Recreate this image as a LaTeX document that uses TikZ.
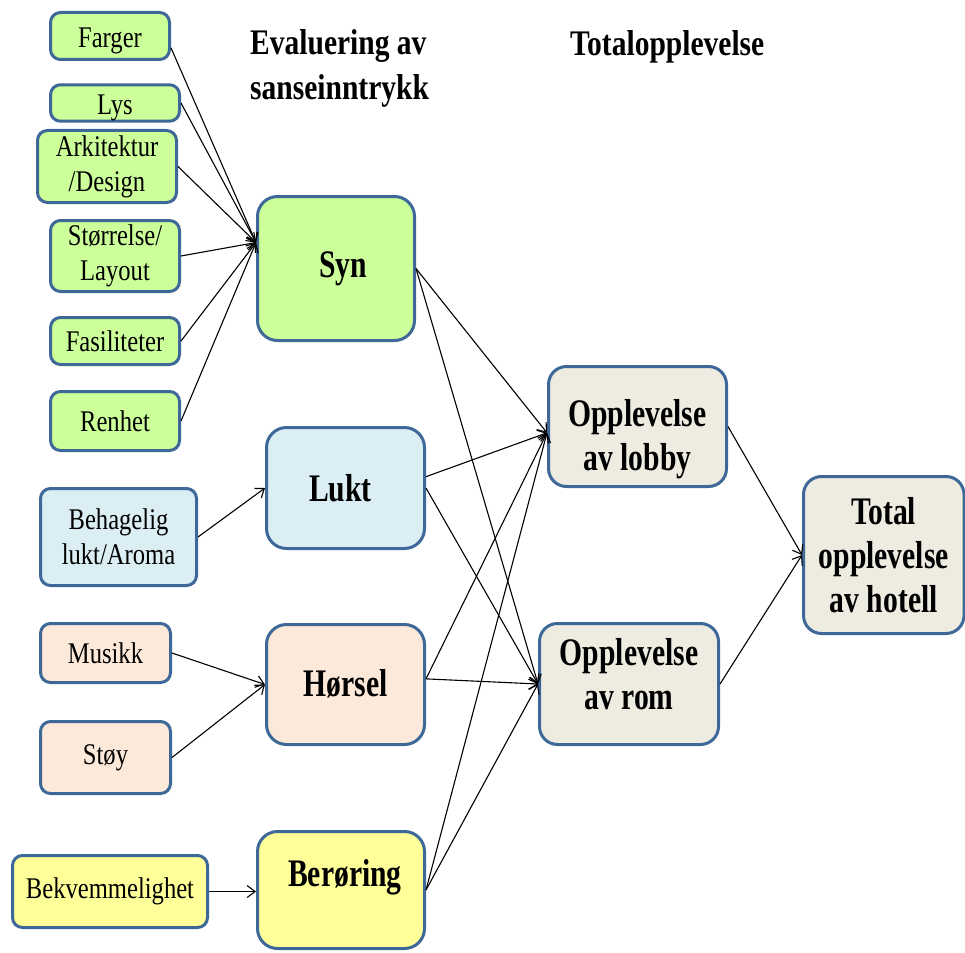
\documentclass[tikz,border=0pt]{standalone}
\usepackage{fontspec}
\setmainfont{Liberation Serif}[FakeStretch=0.82]
\newfontfamily\bigf{Liberation Serif}[FakeStretch=0.76]
\usetikzlibrary{arrows.meta}
\definecolor{bordc}{RGB}{62,104,152}
\definecolor{gre}{RGB}{204,255,153}
\definecolor{blu}{RGB}{218,238,243}
\definecolor{pea}{RGB}{253,233,217}
\definecolor{yel}{RGB}{255,255,153}
\definecolor{bei}{RGB}{238,236,225}
\begin{document}
\begin{tikzpicture}[x=1pt,y=-1pt,
  box/.style={draw=bordc, line width=3pt, rounded corners=10pt, align=center,
    inner sep=0pt, font=\fontsize{30}{35}\selectfont},
  big/.style={box, rounded corners=20pt, font=\bigf\bfseries\fontsize{39}{44}\selectfont},
  title/.style={anchor=base west, align=left, inner sep=0pt, font=\bfseries\fontsize{36}{45}\selectfont},
  conn/.style={-{Straight Barb[length=8pt,width=12pt]}, line width=1.1pt, black}
]
\useasboundingbox (0,0) rectangle (965,952);
\clip (0,0) rectangle (965,952);

% titles
\node[title] (t1) at (250,100) {Evaluering av\\sanseinntrykk};
\node[title] (t2) at (570,56) {Totalopplevelse};

% small input boxes
\node[box, fill=gre, minimum width=119pt, minimum height=47pt] (farger) at (110,36) {\rule{0pt}{30pt}Farger};
\node[box, fill=gre, minimum width=129pt, minimum height=35pt] (lys) at (115,103) {\rule{0pt}{30pt}Lys};
\node[box, fill=gre, minimum width=139pt, minimum height=72pt] (ark) at (107,166.5) {Arkitektur\\/Design};
\node[box, fill=gre, minimum width=129pt, minimum height=71pt] (stor) at (115,256) {Størrelse/\\Layout};
\node[box, fill=gre, minimum width=129pt, minimum height=47pt] (fas) at (115,341) {Fasiliteter};
\node[box, fill=gre, minimum width=129pt, minimum height=59pt] (ren) at (115,421) {Renhet};
\node[box, fill=blu, minimum width=156pt, minimum height=97pt] (beh) at (118.5,537) {Behagelig\\lukt/Aroma};
\node[box, fill=pea, minimum width=130pt, minimum height=59pt] (mus) at (105.5,653) {Musikk};
\node[box, fill=pea, minimum width=130pt, minimum height=72pt] (stoy) at (105.5,757.5) {Støy};
\node[box, fill=yel, minimum width=195pt, minimum height=72pt] (bek) at (110,891.5) {Bekvemmelighet};

% senses
\node[big, fill=gre, minimum width=157pt, minimum height=144pt] (syn) at (336,268.5) {\hspace*{14pt}Syn};
\node[big, fill=blu, minimum width=158pt, minimum height=121pt] (lukt) at (345.5,488) {\hspace*{-10pt}\raisebox{-5pt}{Lukt}};
\node[big, fill=pea, minimum width=158pt, minimum height=120pt] (hor) at (345.5,684.5) {\raisebox{4pt}{Hørsel}};
\node[big, fill=yel, minimum width=167pt, minimum height=117pt] (ber) at (341,890) {\hspace*{8pt}\raisebox{4pt}[0pt][0pt]{Berøring}};

% experiences
\node[big, rounded corners=18pt, fill=bei, minimum width=178pt, minimum height=120pt] (lobby) at (637.5,426.5) {\rule{0pt}{52pt}Opplevelse\\av lobby};
\node[big, rounded corners=18pt, fill=bei, minimum width=179pt, minimum height=121pt] (rom) at (629,684) {Opplevelse\\av rom\rule[-20pt]{0pt}{0pt}};
\node[big, rounded corners=18pt, fill=bei, minimum width=160.5pt, minimum height=157pt] (total) at (883.75,555) {Total\\opplevelse\\av hotell};

% connectors into Syn
\draw[conn] (farger.-11) -- (syn.162);
\draw[conn] (lys.east) -- (syn.162);
\draw[conn] (ark.east) -- (syn.162);
\draw[conn] (stor.east) -- (syn.162);
\draw[conn] (fas.east) -- (syn.162);
\draw[conn] (ren.east) -- (syn.162);
% others
\draw[conn] (beh.east) -- (lukt.west);
\draw[conn] (mus.east) -- (hor.west);
\draw[conn] (stoy.east) -- (hor.west);
\draw[conn] (bek.east) -- (bek.east -| ber.west);

% senses to experiences
\draw[conn] (syn.east) -- (lobby.184);
\draw[conn] (syn.east) -- (rom.west);
\draw[conn] (lukt.8) -- (lobby.184);
\draw[conn] (lukt.east) -- (rom.west);
\draw[conn] (hor.4) -- (lobby.184);
\draw[conn] (hor.4) -- (rom.west);
\draw[conn] (ber.east) -- (lobby.184);
\draw[conn] (ber.east) -- (rom.west);

% to total
\draw[conn] (lobby.east) -- (total.west);
\draw[conn] (rom.east) -- (total.west);
\end{tikzpicture}
\end{document}
